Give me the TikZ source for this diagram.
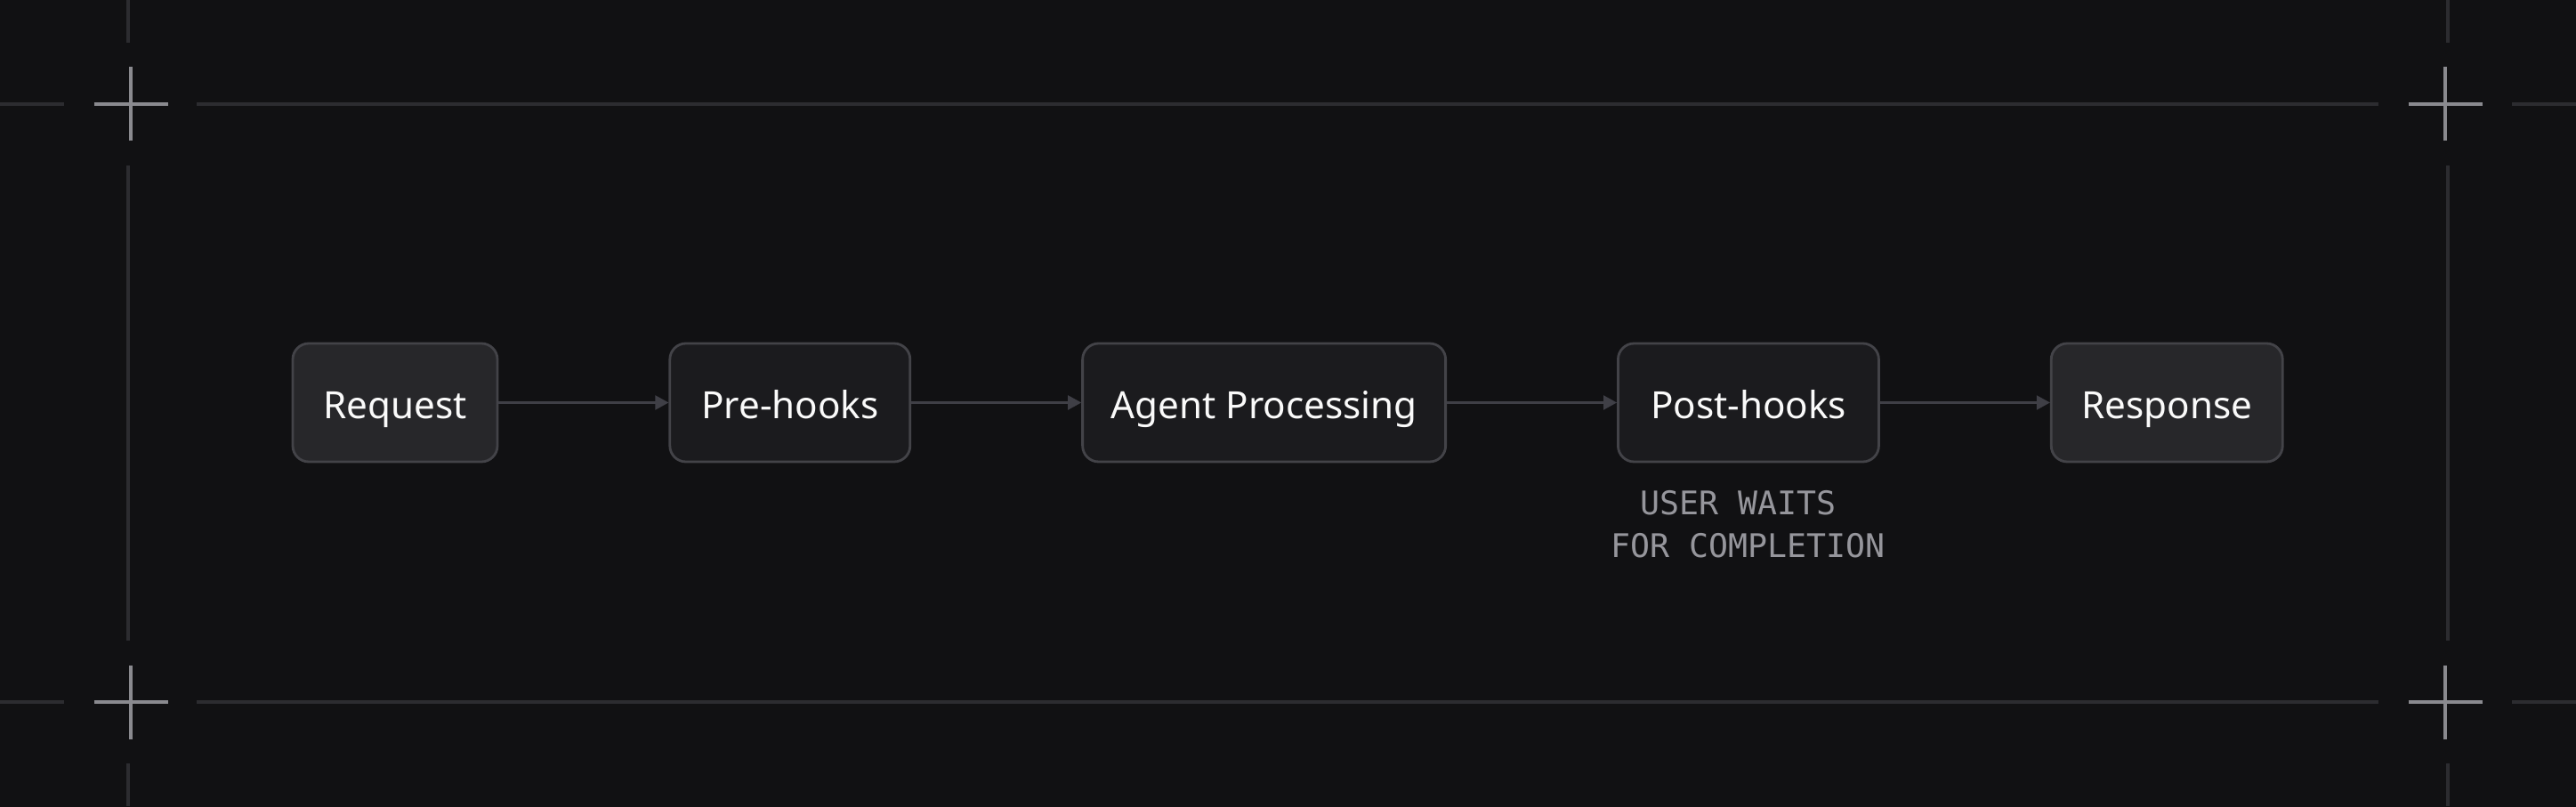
\documentclass[tikz,border=0pt]{standalone}
\usepackage{fontspec}
\setmainfont{Noto Sans}
\newfontfamily\waitfont{DejaVu Sans Mono}
\usepackage{xcolor}
\usetikzlibrary{arrows.meta,positioning}
\definecolor{bgdark}{HTML}{111113}
\definecolor{guide}{HTML}{2C2C30}
\definecolor{crossc}{HTML}{8A8A8F}
\definecolor{boxlight}{HTML}{27272A}
\definecolor{boxdark}{HTML}{1B1B1E}
\definecolor{boxline}{HTML}{434348}
\definecolor{arrowc}{HTML}{3F3F46}
\definecolor{waitc}{HTML}{96969C}

\begin{document}
\begin{tikzpicture}[->,>={Triangle[length=1.5mm,width=1.6mm]},
    box/.style={draw=boxline,line width=0.8pt,rounded corners=1.8mm,minimum height=1.33cm,
      inner sep=0pt,text height=0.37cm,text depth=0pt,text=white!96!gray,
      font=\fontsize{12}{14}\selectfont},
    light/.style={box,fill=boxlight},
    dark/.style={box,fill=boxdark},
    flow/.style={draw=arrowc,line width=0.6pt},
    guideline/.style={-,draw=guide,line width=1pt},
    crossline/.style={-,draw=crossc,line width=1.1pt},
    waitlabel/.style={text=waitc,align=center,inner sep=0pt,
      font=\waitfont\fontsize{10.4}{13.7}\selectfont},
    node distance=1.91cm]
  \useasboundingbox (0,0) rectangle (28.95,9.06);
  \fill[bgdark] (-0.1,-0.1) rectangle (29.05,9.16);
  \foreach \y in {1.17,7.89}
    \draw[guideline] (0,\y) -- (0.72,\y) (2.21,\y) -- (26.73,\y) (28.23,\y) -- (28.95,\y);
  \foreach \x in {1.44,27.51}
    \draw[guideline] (\x,9.06) -- (\x,8.58) (\x,7.20) -- (\x,1.86) (\x,0.48) -- (\x,0);
  \foreach \x/\y in {1.47/7.89,27.48/7.89,1.47/1.17,27.48/1.17}
    \draw[crossline] (\x-0.415,\y) -- (\x+0.415,\y) (\x,\y-0.415) -- (\x,\y+0.415);

  \node[light, minimum width=2.30cm] (request) at (4.44,4.535) {Request};
  \node[dark, minimum width=2.70cm] (prehooks) [right=of request] {Pre-hooks};
  \node[dark, minimum width=4.08cm] (agent) [right=of prehooks] {Agent Processing};
  \node[dark, minimum width=2.93cm] (posthooks) [right=of agent] {Post-hooks};
  \node[light, minimum width=2.60cm] (response) [right=of posthooks] {Response};
  \node[waitlabel] (wait) [below=0.30cm of posthooks] {USER WAITS\hphantom{X}\\FOR COMPLETION};

  \path (request) edge[flow] (prehooks)
    (prehooks) edge[flow] (agent)
    (agent) edge[flow] (posthooks)
    (posthooks) edge[flow] (response);
\end{tikzpicture}
\end{document}
